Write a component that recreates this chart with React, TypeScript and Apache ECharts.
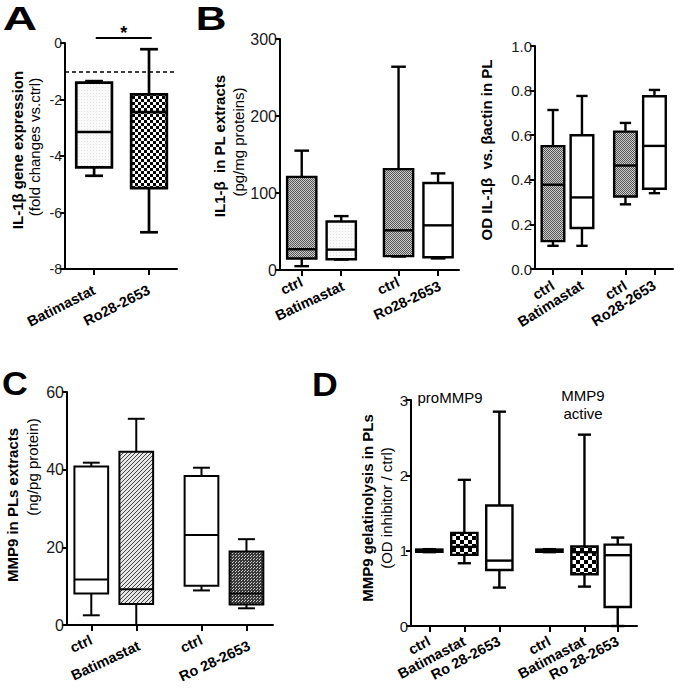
import React, { useEffect, useRef } from 'react';
import * as echarts from 'echarts';

const FONT = '"Liberation Sans", Arial, Helvetica, sans-serif';

// ---------- Panel A : IL-1β gene expression ----------
const aLabels = ['Batimastat', 'Ro28-2653'];
const aPositions = [1, 2];
// [min, Q1, median, Q3, max]
const aBatimastat = [-4.7, -4.4, -3.15, -1.4, -1.35];
const aRo28 = [-6.7, -5.14, -2.45, -1.82, -0.22];
const aReference = -1;
const aSignificance = [1.03, 2.05, 0.18];

// ---------- Panel B left : IL1-β in PL extracts ----------
const bLabels = ['ctrl', 'Batimastat', 'ctrl', 'Ro28-2653'];
const bPositions = [1, 2, 3.45, 4.45];
const bCtrl1 = [5, 15, 27, 121, 155];
const bBatimastat = [13.5, 14, 26.5, 63, 70];
const bCtrl2 = [17.5, 18, 51.5, 131, 264];
const bRo28 = [15, 16.5, 58, 113, 125.5];

// ---------- Panel B right : OD IL-1β vs βactin ----------
const b2Labels = ['ctrl', 'Batimastat', 'ctrl', 'Ro28-2653'];
const b2Positions = [1, 2, 3.5, 4.5];
const b2Ctrl1 = [0.104, 0.125, 0.378, 0.551, 0.713];
const b2Batimastat = [0.104, 0.184, 0.321, 0.6, 0.776];
const b2Ctrl2 = [0.29, 0.325, 0.464, 0.616, 0.655];
const b2Ro28 = [0.34, 0.36, 0.552, 0.775, 0.803];

// ---------- Panel C : MMP9 in PLs extracts ----------
const cLabels = ['ctrl', 'Batimastat', 'ctrl', 'Ro 28-2653'];
const cPositions = [1, 2, 3.45, 4.45];
const cCtrl1 = [2.5, 8.1, 11.7, 40.8, 41.8];
const cBatimastat = [0, 5.4, 9.2, 44.6, 53.1];
const cCtrl2 = [8.9, 10.1, 23.2, 38.4, 40.5];
const cRo28 = [4.3, 5.3, 8.1, 18.9, 22.1];

// ---------- Panel D : MMP9 gelatinolysis ----------
const dLabels = ['ctrl', 'Batimastat', 'Ro 28-2653', 'ctrl', 'Batimastat', 'Ro 28-2653'];
const dPositions = [1, 2, 3, 4.43, 5.43, 6.38];
const dProCtrl = [0.98, 0.985, 1.0, 1.015, 1.02];
const dProBatimastat = [0.833, 0.944, 1.05, 1.236, 1.94];
const dProRo28 = [0.51, 0.744, 0.868, 1.6, 2.845];
const dActCtrl = [0.98, 0.985, 1.0, 1.015, 1.02];
const dActBatimastat = [0.523, 0.687, 0.98, 1.055, 2.54];
const dActRo28 = [0, 0.253, 0.94, 1.08, 1.174];

// label stagger (px of top padding per label) — styling only
const aStagger = [0, 0];
const bStagger = [0, 9, 0, 9];
const b2Stagger = [0, 0, 0, 0];
const cStagger = [0, 13, 0, 13];
const dStagger = [0, 0, 0, 0, 0, 0];

type Fill = any;

function makePattern(w: number, h: number, draw: (ctx: CanvasRenderingContext2D) => void): Fill {
  const c = document.createElement('canvas');
  c.width = w;
  c.height = h;
  const ctx = c.getContext('2d')!;
  draw(ctx);
  return { image: c, repeat: 'repeat', imageWidth: w, imageHeight: h };
}

function checker(cell: number, a: string, b: string): Fill {
  return makePattern(cell * 2, cell * 2, (ctx) => {
    ctx.fillStyle = b;
    ctx.fillRect(0, 0, cell * 2, cell * 2);
    ctx.fillStyle = a;
    ctx.fillRect(0, 0, cell, cell);
    ctx.fillRect(cell, cell, cell, cell);
  });
}

function buildFills() {
  const lightDot = makePattern(3, 3, (ctx) => {
    ctx.fillStyle = '#fafafa';
    ctx.fillRect(0, 0, 3, 3);
    ctx.fillStyle = '#e2e2e2';
    ctx.fillRect(0, 0, 1, 1);
  });
  const grayDot = checker(1, '#555', '#cdcdcd');
  const blackChecker = checker(3, '#000', '#fff');
  const bigChecker = checker(4, '#000', '#fff');
  const hatch = makePattern(4, 4, (ctx) => {
    ctx.fillStyle = '#e6e6e6';
    ctx.fillRect(0, 0, 4, 4);
    ctx.fillStyle = '#404040';
    for (let i = 0; i < 4; i++) ctx.fillRect(3 - i, i, 1, 1);
  });
  const darkSpeckle = makePattern(3, 3, (ctx) => {
    ctx.fillStyle = '#3a3a3a';
    ctx.fillRect(0, 0, 3, 3);
    ctx.fillStyle = '#c8c8c8';
    ctx.fillRect(1, 1, 1, 1);
    ctx.fillRect(2, 0, 1, 1);
  });
  const grayGrid = makePattern(4, 4, (ctx) => {
    ctx.fillStyle = '#bbb';
    ctx.fillRect(0, 0, 4, 4);
    ctx.fillStyle = '#333';
    ctx.fillRect(0, 0, 1, 4);
  });
  return { lightDot, grayDot, blackChecker, bigChecker, hatch, darkSpeckle, grayGrid };
}

function boxSeries(grid: number, positions: number[], boxes: number[][], fills: Fill[], boxW: number, lw: number, extra: any = {}) {
  const data = boxes.map((b, i) => [positions[i], ...b]);
  return {
    type: 'custom',
    xAxisIndex: grid,
    yAxisIndex: grid,
    data,
    encode: { x: 0, y: [1, 2, 3, 4, 5] },
    clip: false,
    silent: true,
    renderItem: (params: any, api: any) => {
      const x = api.value(0);
      const ys = [1, 2, 3, 4, 5].map((d) => api.coord([x, api.value(d)])[1]);
      const cx = api.coord([x, api.value(1)])[0];
      const unit = api.size([1, 0])[0];
      const w = boxW * unit;
      const hw = w / 2;
      const cw = w / 4;
      const [pMin, pQ1, pMed, pQ3, pMax] = ys;
      const ls = { stroke: '#000', lineWidth: lw, fill: null };
      return {
        type: 'group',
        children: [
          { type: 'line', shape: { x1: cx, y1: pQ3, x2: cx, y2: pMax }, style: ls },
          { type: 'line', shape: { x1: cx - cw, y1: pMax, x2: cx + cw, y2: pMax }, style: ls },
          { type: 'line', shape: { x1: cx, y1: pQ1, x2: cx, y2: pMin }, style: ls },
          { type: 'line', shape: { x1: cx - cw, y1: pMin, x2: cx + cw, y2: pMin }, style: ls },
          {
            type: 'rect',
            shape: { x: cx - hw, y: pQ3, width: w, height: pQ1 - pQ3 },
            style: { fill: fills[params.dataIndex], stroke: '#000', lineWidth: lw },
          },
          { type: 'line', shape: { x1: cx - hw, y1: pMed, x2: cx + hw, y2: pMed }, style: ls },
        ],
      };
    },
    ...extra,
  };
}

const axisLineStyle = { color: '#000', width: 2 };

function xAxisCfg(grid: number, min: number, max: number, positions: number[], labels: string[], rotate: number, margin: number, stagger: number[]) {
  const rich: any = {};
  stagger.forEach((p, i) => {
    rich['s' + i] = { fontFamily: FONT, fontWeight: 'bold', fontSize: 14.5, color: '#000', padding: [p, 0, 0, 0] };
  });
  return {
    type: 'value',
    gridIndex: grid,
    min,
    max,
    axisLine: { show: true, onZero: false, lineStyle: axisLineStyle },
    axisTick: { show: true, customValues: positions, length: 6, lineStyle: axisLineStyle },
    axisLabel: {
      customValues: positions,
      rotate,
      margin,
      hideOverlap: false,
      showMinLabel: true,
      showMaxLabel: true,
      fontFamily: FONT,
      fontWeight: 'bold',
      fontSize: 14.5,
      color: '#000',
      rich,
      formatter: (v: number) => {
        const i = positions.findIndex((p) => Math.abs(p - v) < 1e-6);
        return i >= 0 ? '{s' + i + '|' + labels[i] + '}' : '';
      },
    },
    splitLine: { show: false },
  };
}

function yAxisCfg(grid: number, min: number, max: number, interval: number, fontSize: number, digits = 0) {
  return {
    type: 'value',
    gridIndex: grid,
    min,
    max,
    interval,
    axisLine: { show: true, onZero: false, lineStyle: axisLineStyle },
    axisTick: { show: true, length: 5, lineStyle: axisLineStyle },
    axisLabel: {
      margin: 3,
      fontFamily: FONT,
      fontSize,
      color: '#1a1a1a',
      formatter: (v: number) => v.toFixed(digits),
    },
    splitLine: { show: false },
  };
}

function txt(text: string, x: number, y: number, size: number, weight: string, rotation = 0, vAlign = 'middle', scaleX = 1) {
  return {
    type: 'text',
    x,
    y,
    rotation,
    scaleX,
    silent: true,
    style: {
      text,
      fontSize: size,
      fontWeight: weight,
      fontFamily: FONT,
      fill: '#000',
      align: 'center',
      verticalAlign: vAlign,
    },
  };
}

const R = Math.PI / 2;

export default function App() {
  const ref = useRef<HTMLDivElement>(null);

  useEffect(() => {
    document.body.style.margin = '0';
    if (!ref.current) return;
    const chart = echarts.init(ref.current, null, { renderer: 'svg' });
    const f = buildFills();

    const grids = [
      { left: 65, top: 43, width: 112, height: 226 },
      { left: 280, top: 39, width: 179, height: 231 },
      { left: 535, top: 46, width: 138, height: 223 },
      { left: 67, top: 392, width: 206, height: 233 },
      { left: 411, top: 400, width: 226, height: 226 },
    ].map((g) => ({ ...g, containLabel: false, outerBoundsMode: 'none' }));

    const option: any = {
      animation: false,
      backgroundColor: '#fff',
      grid: grids,
      xAxis: [
        xAxisCfg(0, 0.47, 2.51, aPositions, aLabels, 27, 20, aStagger),
        xAxisCfg(1, 0.45, 4.98, bPositions, bLabels, 25, 11, bStagger),
        xAxisCfg(2, 0.38, 5.14, b2Positions, b2Labels, 32, 15, b2Stagger),
        xAxisCfg(3, 0.46, 5.04, cPositions, cLabels, 25, 14, cStagger),
        xAxisCfg(4, 0.477, 6.93, dPositions, dLabels, 28, 14, dStagger),
      ],
      yAxis: [
        yAxisCfg(0, -8, 0, 2, 14),
        yAxisCfg(1, 0, 300, 100, 16),
        yAxisCfg(2, 0, 1, 0.2, 15, 1),
        yAxisCfg(3, 0, 60, 20, 16),
        yAxisCfg(4, 0, 3, 1, 15),
      ],
      series: [
        boxSeries(0, aPositions, [aBatimastat, aRo28], [f.lightDot, f.blackChecker], 0.65, 2.7, {
          markLine: {
            silent: true,
            symbol: ['none', 'none'],
            label: { show: false },
            lineStyle: { type: [4, 3], color: '#000', width: 1.5 },
            data: [{ yAxis: aReference }],
          },
        }),
        {
          type: 'custom',
          xAxisIndex: 0,
          yAxisIndex: 0,
          data: [aSignificance],
          clip: false,
          silent: true,
          encode: { x: [0, 1], y: 2 },
          renderItem: (_p: any, api: any) => {
            const p1 = api.coord([api.value(0), api.value(2)]);
            const p2 = api.coord([api.value(1), api.value(2)]);
            return {
              type: 'group',
              children: [
                { type: 'line', shape: { x1: p1[0], y1: p1[1], x2: p2[0], y2: p2[1] }, style: { stroke: '#000', lineWidth: 2 } },
                {
                  type: 'text',
                  x: (p1[0] + p2[0]) / 2,
                  y: p1[1] - 5,
                  style: { text: '*', fontSize: 18, fontWeight: 'bold', fontFamily: FONT, fill: '#000', align: 'center', verticalAlign: 'middle' },
                },
              ],
            };
          },
        },
        boxSeries(1, bPositions, [bCtrl1, bBatimastat, bCtrl2, bRo28], [f.grayDot, f.lightDot, f.grayDot, '#fff'], 0.74, 2.4),
        boxSeries(2, b2Positions, [b2Ctrl1, b2Batimastat, b2Ctrl2, b2Ro28], [f.grayDot, '#fff', f.grayDot, '#fff'], 0.78, 2.4),
        boxSeries(3, cPositions, [cCtrl1, cBatimastat, cCtrl2, cRo28], ['#fff', f.hatch, '#fff', f.darkSpeckle], 0.75, 2),
        boxSeries(4, dPositions, [dProCtrl, dProBatimastat, dProRo28, dActCtrl, dActBatimastat, dActRo28], ['#000', f.bigChecker, '#fff', f.grayGrid, f.bigChecker, '#fff'], 0.75, 2.4),
      ],
      graphic: [
        txt('A', 20, 1, 34, 'bold', 0, 'top', 1.4),
        txt('B', 211, 1, 34, 'bold', 0, 'top', 1.25),
        txt('C', 15, 366, 34, 'bold', 0, 'top', 1.05),
        txt('D', 325, 367, 34, 'bold', 0, 'top', 1.05),
        txt('IL-1β gene expression', 17, 150, 15, 'bold', R),
        txt('(fold changes vs.ctrl)', 34, 147, 15, 'normal', R),
        txt('IL1-β  in PL extracts', 219, 146, 15, 'bold', R),
        txt('(pg/mg proteins)', 238, 142, 15, 'normal', R),
        txt('OD IL-1β  vs. βactin in PL', 486, 150, 15, 'bold', R),
        txt('MMP9 in PLs extracts', 12, 505, 15, 'bold', R),
        txt('(ng/pg protein)', 32, 467, 15, 'normal', R),
        txt('MMP9 gelatinolysis in PLs', 367, 508, 15, 'bold', R),
        txt('(OD inhibitor / ctrl)', 386, 508, 15, 'normal', R),
        txt('proMMP9', 450, 397, 15, 'normal'),
        txt('MMP9', 583, 395, 15, 'normal'),
        txt('active', 583, 413, 15, 'normal'),
      ],
    };

    chart.setOption(option);
    return () => chart.dispose();
  }, []);

  return <div ref={ref} style={{ width: 675, height: 690 }} />;
}
